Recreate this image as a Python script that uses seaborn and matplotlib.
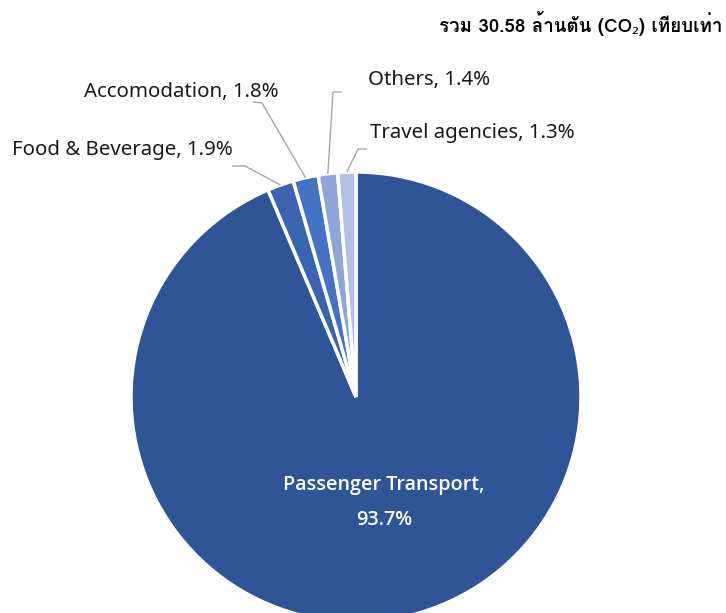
import matplotlib
matplotlib.use("Agg")
import matplotlib.pyplot as plt
import seaborn as sns
import numpy as np
from matplotlib import font_manager
from matplotlib.ft2font import FT2Font

# ---- data ----
categories = ["Passenger Transport", "Food & Beverage", "Accomodation", "Others", "Travel agencies"]
shares = [93.7, 1.9, 1.8, 1.4, 1.3]
colors = ["#2F5597", "#3A64B0", "#4472C4", "#8EA5D6", "#B4C0E2"]
title_text = "รวม 30.58 ล้านตัน (CO₂) เทียบเท่า"


def find_thai():
    names = []
    for f in font_manager.fontManager.ttflist:
        try:
            cm = FT2Font(f.fname).get_charmap()
        except Exception:
            continue
        if ord("ร") in cm and ord("ต") in cm:
            names.append(f.name)
    return names


sns.set_theme(style="white")
thai = find_thai()
base = "Noto Sans"
plt.rcParams["font.family"] = [base, "DejaVu Sans"]

W, H = 726, 613
fig = plt.figure(figsize=(W / 100, H / 100), dpi=100)
ax = fig.add_axes([0, 0, 1, 1])

cx, cy, R = 356, H - 397, 225
wedges, _ = ax.pie(shares, colors=colors, startangle=90, counterclock=False,
                   center=(cx, cy), radius=R,
                   wedgeprops=dict(edgecolor="white", linewidth=2.5))
ax.set_xlim(0, W)
ax.set_ylim(0, H)
ax.set_aspect("equal")
ax.axis("off")

# label layout: text position and leader line points, pixel coords (top-left origin)
layout = {
    "Food & Beverage": dict(tx=233, ty=150, ha="right", pts=[(245, 166), (232, 166)]),
    "Accomodation": dict(tx=279, ty=92, ha="right", pts=[(262, 103), (253, 102)]),
    "Others": dict(tx=368, ty=80, ha="left", pts=[(333, 92), (342, 92)]),
    "Travel agencies": dict(tx=370, ty=133, ha="left", pts=[(358, 149), (367, 149)]),
}

for w, cat, val in zip(wedges, categories, shares):
    if cat not in layout:
        continue
    L = layout[cat]
    mid = np.deg2rad((w.theta1 + w.theta2) / 2)
    x0 = cx + R * np.cos(mid)
    y0 = cy + R * np.sin(mid)
    xs = [x0] + [p[0] for p in L["pts"]]
    ys = [y0] + [H - p[1] for p in L["pts"]]
    ax.plot(xs, ys, color="#A6A6A6", lw=1.0, solid_capstyle="butt")
    ax.text(L["tx"], H - L["ty"], f"{cat}, {val}%", ha=L["ha"], va="center",
            fontsize=14.7, color="#1a1a1a")

cfam = ["Open Sans", "Noto Sans", "DejaVu Sans"]
ax.text(384, H - 485, f"{categories[0]},", ha="center", va="center",
        fontsize=14.2, color="white", fontweight="semibold", family=cfam)
ax.text(384, H - 520, f"{shares[0]}%", ha="center", va="center",
        fontsize=14.2, color="white", fontweight="semibold", family=cfam)

tfam = (thai[:1] if thai else []) + [base, "DejaVu Sans"]
ax.text(722, H - 24, title_text, ha="right", va="center", fontsize=13.5,
        fontweight="bold", family=tfam, color="black")

fig.savefig("out.png", dpi=100)
